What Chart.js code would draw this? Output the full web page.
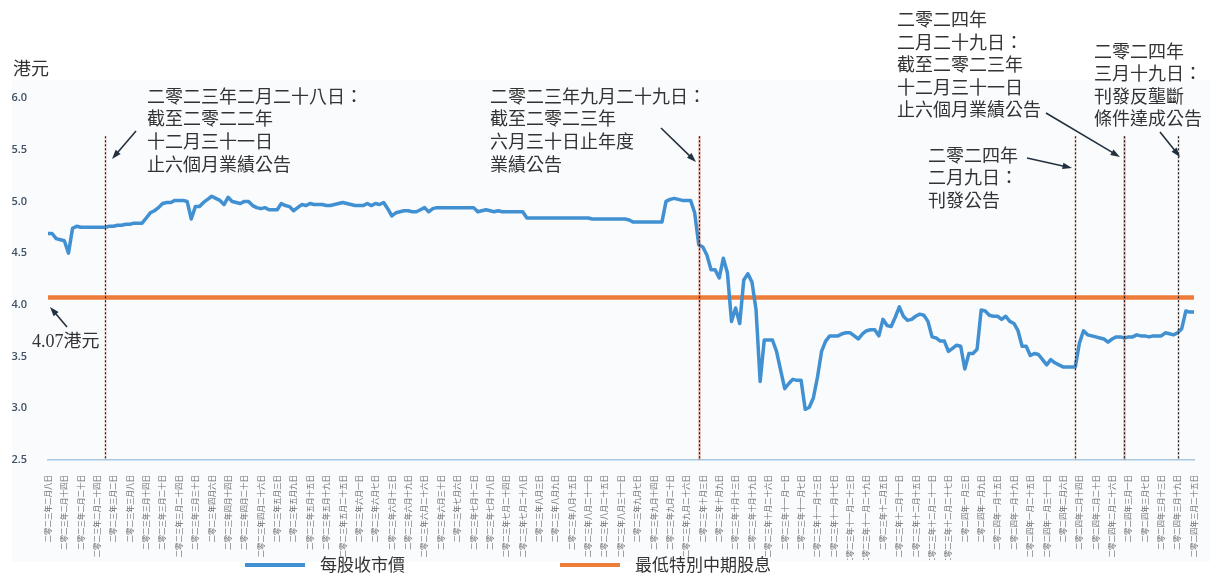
<!DOCTYPE html>
<html>
<head>
<meta charset="utf-8">
<script src="https://cdn.jsdelivr.net/npm/chart.js@4.4.1/dist/chart.umd.min.js"></script>
<style>
  html, body { margin: 0; padding: 0; background: #fff; }
  #wrap { width: 1210px; height: 573px; }
</style>
</head>
<body>
<div id="wrap"><canvas id="mychart" width="1210" height="573"></canvas></div>
<script>
// tick labels, one every 4 trading days
const tickLabels = [
  '二零二三年二月八日','二零二三年二月十四日','二零二三年二月二十日','二零二三年二月二十四日',
  '二零二三年三月二日','二零二三年三月八日','二零二三年三月十四日','二零二三年三月二十日','二零二三年三月二十四日','二零二三年三月三十日',
  '二零二三年四月六日','二零二三年四月十四日','二零二三年四月二十日','二零二三年四月二十六日',
  '二零二三年五月三日','二零二三年五月九日','二零二三年五月十五日','二零二三年五月十九日','二零二三年五月二十五日',
  '二零二三年六月一日','二零二三年六月七日','二零二三年六月十三日','二零二三年六月十九日','二零二三年六月二十六日','二零二三年六月三十日',
  '二零二三年七月六日','二零二三年七月十二日','二零二三年七月十八日','二零二三年七月二十四日','二零二三年七月二十八日',
  '二零二三年八月三日','二零二三年八月九日','二零二三年八月十五日','二零二三年八月二十一日','二零二三年八月二十五日','二零二三年八月三十一日',
  '二零二三年九月七日','二零二三年九月十四日','二零二三年九月二十日','二零二三年九月二十六日',
  '二零二三年十月三日','二零二三年十月九日','二零二三年十月十三日','二零二三年十月十九日','二零二三年十月二十六日',
  '二零二三年十一月一日','二零二三年十一月七日','二零二三年十一月十三日','二零二三年十一月十七日','二零二三年十一月二十三日','二零二三年十一月二十九日',
  '二零二三年十二月五日','二零二三年十二月十一日','二零二三年十二月十五日','二零二三年十二月二十一日','二零二三年十二月二十七日',
  '二零二四年一月三日','二零二四年一月九日','二零二四年一月十五日','二零二四年一月十九日','二零二四年一月二十五日','二零二四年一月三十一日',
  '二零二四年二月六日','二零二四年二月十四日','二零二四年二月二十日','二零二四年二月二十六日',
  '二零二四年三月一日','二零二四年三月七日','二零二四年三月十三日','二零二四年三月十九日','二零二四年三月二十五日'
];
const daysPerTick = 4;

// daily closing price (HK$)
const closePrice = [
  4.69,4.69,4.64,4.63,4.62,4.50,4.74,4.76,4.75,4.75, 4.75,4.75,4.75,4.75,4.75,4.76,4.76,4.77,4.77,4.78,
  4.78,4.79,4.79,4.79,4.84,4.89,4.91,4.94,4.98,4.99, 4.99,5.01,5.01,5.01,5.00,4.83,4.95,4.95,4.99,5.02,
  5.05,5.03,5.01,4.97,5.04,5.00,4.99,4.98,5.00,5.00, 4.96,4.94,4.93,4.94,4.92,4.92,4.92,4.98,4.96,4.95,
  4.91,4.94,4.97,4.96,4.98,4.97,4.97,4.97,4.96,4.96, 4.97,4.98,4.99,4.98,4.97,4.96,4.96,4.96,4.98,4.96,
  4.98,4.97,4.99,4.93,4.86,4.89,4.90,4.91,4.91,4.90, 4.90,4.92,4.94,4.90,4.93,4.94,4.94,4.94,4.94,4.94,
  4.94,4.94,4.94,4.94,4.94,4.90,4.91,4.92,4.91,4.90, 4.91,4.90,4.90,4.90,4.90,4.90,4.90,4.84,4.84,4.84,
  4.84,4.84,4.84,4.84,4.84,4.84,4.84,4.84,4.84,4.84, 4.84,4.84,4.84,4.83,4.83,4.83,4.83,4.83,4.83,4.83,
  4.83,4.83,4.82,4.80,4.80,4.80,4.80,4.80,4.80,4.80, 4.80,5.00,5.02,5.03,5.02,5.01,5.01,5.01,4.89,4.58,
  4.56,4.48,4.34,4.34,4.26,4.45,4.31,3.84,3.97,3.82, 4.24,4.30,4.22,3.95,3.26,3.66,3.66,3.66,3.55,3.37,
  3.19,3.24,3.28,3.27,3.27,2.99,3.01,3.10,3.30,3.55, 3.65,3.70,3.70,3.70,3.72,3.73,3.73,3.70,3.67,3.72,
  3.75,3.76,3.76,3.70,3.86,3.80,3.79,3.88,3.98,3.89, 3.85,3.86,3.89,3.91,3.90,3.84,3.69,3.68,3.65,3.65,
  3.55,3.58,3.61,3.60,3.38,3.53,3.53,3.57,3.95,3.94, 3.90,3.89,3.89,3.86,3.89,3.84,3.82,3.75,3.60,3.60,
  3.51,3.53,3.52,3.47,3.42,3.47,3.44,3.42,3.40,3.40, 3.40,3.40,3.63,3.75,3.71,3.70,3.69,3.68,3.67,3.64,
  3.67,3.69,3.69,3.68,3.69,3.69,3.71,3.70,3.70,3.69, 3.70,3.70,3.70,3.73,3.72,3.71,3.73,3.77,3.94,3.93,
  3.93
];
const specialDividend = 4.07;

// trading-day index of each announcement
const eventIndex = [14, 159, 251, 263, 276];
const eventTop = 5.63;

const seriesNames = ['每股收市價', '最低特別中期股息'];
const yTicks = [2.5, 3.0, 3.5, 4.0, 4.5, 5.0, 5.5, 6.0];

// build category labels: tick text on every 4th day, blank otherwise
const labels = closePrice.map((v, i) => (i % daysPerTick === 0 ? tickLabels[i / daysPerTick] : ''));

const NOTE_FONT = '18px "Liberation Serif", "Noto Sans CJK TC", serif';
const notes = [
  { lines: ['二零二三年二月二十八日：','截至二零二二年','十二月三十一日','止六個月業績公告'], x: 147, y: 98, lh: 22.6, from: [136, 131], to: [112, 159] },
  { lines: ['二零二三年九月二十九日：','截至二零二三年','六月三十日止年度','業績公告'], x: 490, y: 98, lh: 22.6, from: [661, 128], to: [696, 162] },
  { lines: ['二零二四年','二月二十九日：','截至二零二三年','十二月三十一日','止六個月業績公告'], x: 897, y: 21.5, lh: 22.5, from: [1046, 113], to: [1120, 157] },
  { lines: ['二零二四年','三月十九日：','刊發反壟斷','條件達成公告'], x: 1094, y: 53, lh: 22.5, from: [1160, 132], to: [1180, 157] },
  { lines: ['二零二四年','二月九日：','刊發公告'], x: 928, y: 157, lh: 22.5, from: [1027, 158], to: [1072, 168] },
  { lines: ['4.07港元'], x: 32, y: 342, lh: 22, from: [67, 327], to: [50, 307] }
];

function drawArrow(ctx, x1, y1, x2, y2) {
  const a = Math.atan2(y2 - y1, x2 - x1);
  const h = 10;
  ctx.beginPath();
  ctx.moveTo(x1, y1);
  ctx.lineTo(x2 - Math.cos(a) * h * 0.7, y2 - Math.sin(a) * h * 0.7);
  ctx.stroke();
  ctx.beginPath();
  ctx.moveTo(x2, y2);
  ctx.lineTo(x2 - h * Math.cos(a - 0.33), y2 - h * Math.sin(a - 0.33));
  ctx.lineTo(x2 - h * Math.cos(a + 0.33), y2 - h * Math.sin(a + 0.33));
  ctx.closePath();
  ctx.fill();
}

const notesPlugin = {
  id: 'notes',
  beforeDraw(chart) {
    const ctx = chart.ctx;
    ctx.save();
    ctx.fillStyle = '#ffffff';
    ctx.fillRect(0, 0, chart.width, chart.height);
    ctx.fillStyle = '#fafbfd';
    ctx.fillRect(12, 80, chart.width - 12, 482);
    ctx.restore();
  },
  afterDatasetsDraw(chart) {
    const ctx = chart.ctx;
    const xs = chart.scales.x, ys = chart.scales.y;
    const top = ys.getPixelForValue(eventTop);
    const bottom = chart.chartArea.bottom;
    ctx.save();
    eventIndex.forEach((idx, k) => {
      const x = Math.round(xs.getPixelForValue(idx)) + 0.5;
      ctx.setLineDash([]);
      ctx.strokeStyle = (k === 1 || k === 3) ? 'rgba(215,80,50,0.35)' : 'rgba(230,150,110,0.18)';
      ctx.lineWidth = 2.5;
      ctx.beginPath(); ctx.moveTo(x, top); ctx.lineTo(x, bottom); ctx.stroke();
      ctx.setLineDash([2, 2]);
      ctx.strokeStyle = '#1c1c1c';
      ctx.lineWidth = 1.2;
      ctx.beginPath(); ctx.moveTo(x, top); ctx.lineTo(x, bottom); ctx.stroke();
    });
    ctx.setLineDash([]);

    // annotation texts and arrows
    ctx.font = NOTE_FONT;
    ctx.fillStyle = '#333333';
    ctx.textBaseline = 'middle';
    ctx.textAlign = 'left';
    notes.forEach(n => {
      n.lines.forEach((t, i) => ctx.fillText(t, n.x, n.y + i * n.lh));
    });
    ctx.strokeStyle = '#22313f';
    ctx.fillStyle = '#22313f';
    ctx.lineWidth = 1.6;
    notes.forEach(n => drawArrow(ctx, n.from[0], n.from[1], n.to[0], n.to[1]));

    // unit
    ctx.fillStyle = '#333333';
    ctx.font = '18px "Noto Sans CJK TC", sans-serif';
    ctx.fillText('港元', 13, 68);

    // legend
    const legendY = 565;
    const spots = [[245, 320], [560, 635]];
    chart.data.datasets.forEach((ds, i) => {
      ctx.fillStyle = ds.borderColor;
      ctx.fillRect(spots[i][0], legendY - 2, 60, 4);
      ctx.fillStyle = '#333333';
      ctx.font = '17px "Noto Sans CJK TC", sans-serif';
      ctx.fillText(ds.label, spots[i][1], legendY);
    });
    ctx.restore();
  }
};

const data = {
  labels: labels,
  datasets: [
    {
      label: seriesNames[0],
      data: closePrice,
      borderColor: '#4190d2',
      borderWidth: 3.5,
      pointRadius: 0,
      tension: 0,
      borderJoinStyle: 'round'
    },
    {
      label: seriesNames[1],
      data: closePrice.map(() => specialDividend),
      borderColor: '#ee7d3a',
      borderWidth: 4.5,
      pointRadius: 0
    }
  ]
};

const config = {
  type: 'line',
  data: data,
  options: {
    responsive: false,
    animation: false,
    layout: { padding: { top: 98, right: 12, bottom: 13, left: 0 } },
    plugins: {
      legend: { display: false },
      tooltip: { enabled: false },
      title: { display: false }
    },
    scales: {
      x: {
        grid: { display: false },
        border: { display: true, color: '#a9c9e2', width: 1.5 },
        ticks: {
          autoSkip: false,
          maxRotation: 90,
          minRotation: 90,
          padding: 7,
          color: '#6e6e6e',
          font: { size: 7.5, family: '"Noto Sans CJK TC", sans-serif' }
        },
        afterFit: s => { s.height = 100; }
      },
      y: {
        min: 2.5,
        max: 6.0,
        afterBuildTicks: s => { s.ticks = yTicks.map(v => ({ value: v })); },
        grid: { display: false },
        border: { display: false },
        ticks: {
          padding: 13,
          color: '#3d4f63',
          font: { size: 11, weight: '600', family: '"Open Sans", sans-serif' },
          callback: v => Number(v).toFixed(1)
        },
        afterFit: s => { s.width = 48; }
      }
    }
  },
  plugins: [notesPlugin]
};

const ctx = document.getElementById('mychart').getContext('2d');
new Chart(ctx, config);
</script>
</body>
</html>
